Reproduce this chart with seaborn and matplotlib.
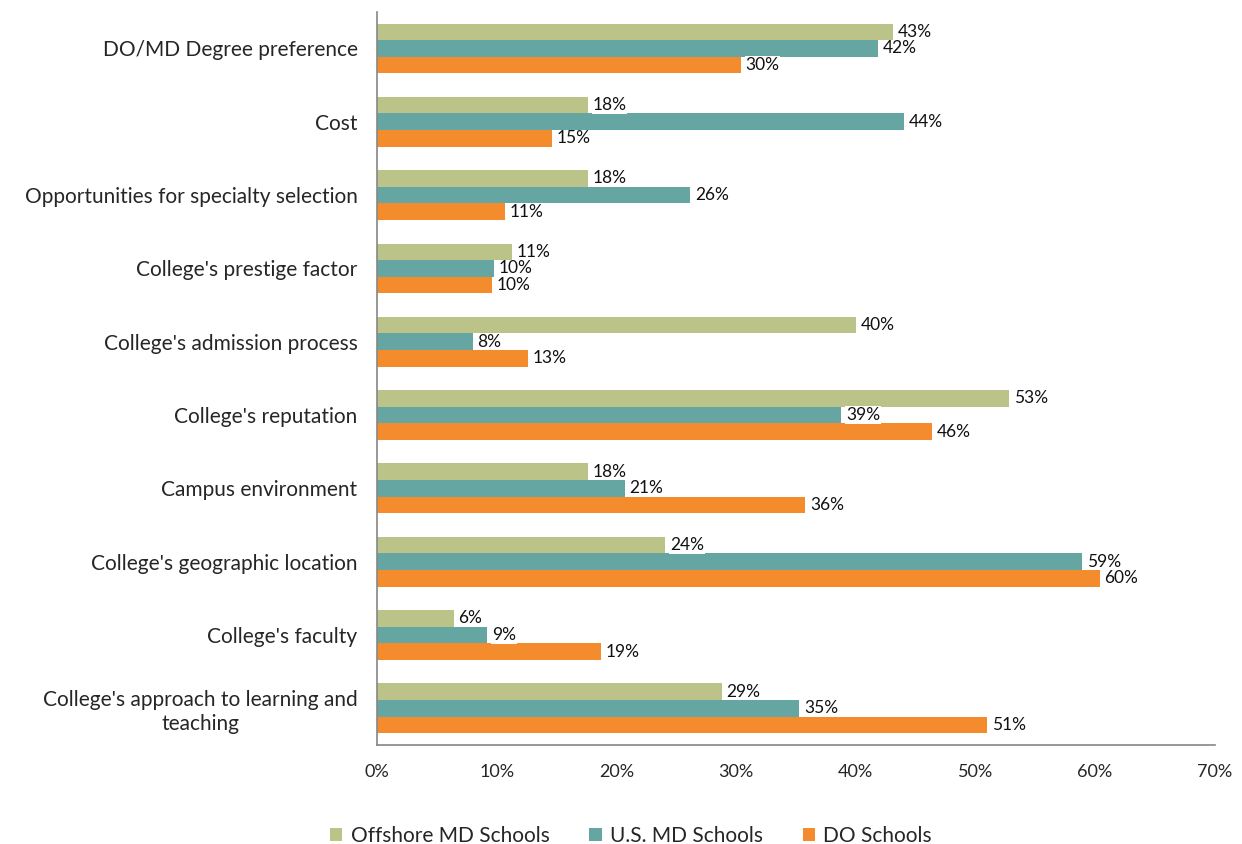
import pandas as pd
import matplotlib.pyplot as plt
import seaborn as sns
from matplotlib.ticker import FixedLocator, PercentFormatter

factors = ["DO/MD Degree preference", "Cost", "Opportunities for specialty selection",
           "College's prestige factor", "College's admission process", "College's reputation",
           "Campus environment", "College's geographic location", "College's faculty",
           "College's approach to learning and\nteaching"]
offshore_md = [43.1, 17.6, 17.6, 11.3, 40.0, 52.8, 17.6, 24.1, 6.4, 28.8]
us_md = [41.9, 44.0, 26.2, 9.8, 8.0, 38.8, 20.7, 58.9, 9.2, 35.3]
do_schools = [30.4, 14.6, 10.7, 9.6, 12.6, 46.4, 35.8, 60.4, 18.7, 51.0]
series = ["Offshore MD Schools", "U.S. MD Schools", "DO Schools"]
colors = ["#bcc389", "#65a5a2", "#f48c2d"]

df = pd.DataFrame({
    "factor": factors * 3,
    "pct": offshore_md + us_md + do_schools,
    "school": [s for s in series for _ in factors],
})

sns.set_style("white")
plt.rcParams["font.family"] = ["Lato", "DejaVu Sans"]

fig = plt.figure(figsize=(12.42, 8.44), dpi=100)
ax = fig.add_axes([0.3035, 0.1173, 0.6745, 0.8687])

sns.barplot(data=df, y="factor", x="pct", hue="school", hue_order=series,
            palette=colors, order=factors, orient="h", width=0.68,
            saturation=1, edgecolor="none", ax=ax, errorbar=None)

# value labels
for cont in ax.containers:
    for bar in cont:
        w = bar.get_width()
        ax.text(w + 0.4, bar.get_y() + bar.get_height() / 2, f"{w:.0f}%",
                va="center", ha="left", fontsize=12.5, color="#111111",
                bbox=dict(facecolor="white", edgecolor="none", pad=0.5))

ax.set_xlim(0, 70)
ax.set_ylim(9.5, -0.5)
ax.set_xticks(range(0, 71, 10))
ax.xaxis.set_major_formatter(PercentFormatter(decimals=0))
ax.set_xlabel("")
ax.set_ylabel("")

ax.tick_params(axis="y", which="major", length=0, pad=14, labelsize=15)
ax.yaxis.set_minor_locator(FixedLocator([i - 0.5 for i in range(11)]))
ax.tick_params(axis="y", which="minor", length=6, color="#868686", direction="out")
ax.tick_params(axis="x", length=6, color="#868686", direction="out", labelsize=13, pad=8)
for lab in ax.get_yticklabels():
    lab.set_multialignment("center")

for s in ["top", "right"]:
    ax.spines[s].set_visible(False)
for s in ["left", "bottom"]:
    ax.spines[s].set_color("#868686")
    ax.spines[s].set_linewidth(1.2)

handles, labels = ax.get_legend_handles_labels()
ax.get_legend().remove()
fig.legend(handles, labels, loc="lower center", ncol=3, frameon=False,
           bbox_to_anchor=(0.508, -0.024), fontsize=15, handlelength=0.6,
           handleheight=0.6, handletextpad=0.4, columnspacing=1.9)

fig.savefig("out.png", dpi=100)
